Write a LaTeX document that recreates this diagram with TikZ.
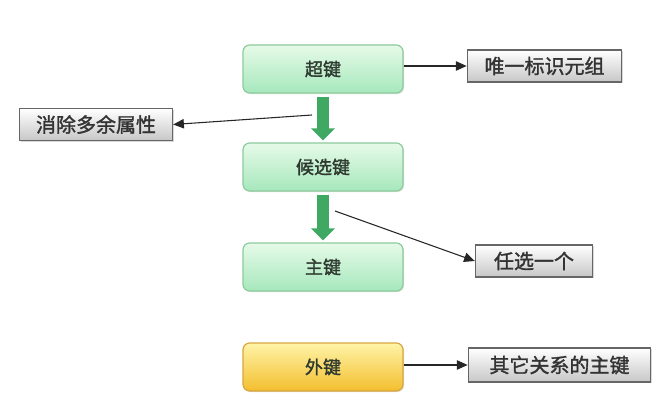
\documentclass[tikz,border=0pt]{standalone}
\usepackage{fontspec}
\setmainfont{Noto Sans CJK SC}[FakeBold=1.6]
\usetikzlibrary{arrows.meta,shadows,calc}
\definecolor{gtop}{HTML}{E6FAE8}
\definecolor{gbot}{HTML}{A6E8BC}
\definecolor{gedge}{HTML}{8CCB9C}
\definecolor{ytop}{HTML}{FFF4A8}
\definecolor{ybot}{HTML}{F3BE2E}
\definecolor{yedge}{HTML}{D9A640}
\definecolor{arrowg}{HTML}{3FA862}
\definecolor{txt}{HTML}{2E3A30}
\tikzset{
  keybox/.style={draw=gedge, line width=0.9pt, rounded corners=5pt, top color=gtop, bottom color=gbot,
    minimum width=120pt, minimum height=36pt, font=\fontsize{13.5}{15}\selectfont, text=txt,
    drop shadow={shadow xshift=0.8pt, shadow yshift=-0.8pt, opacity=0.25}},
  fkbox/.style={keybox, draw=yedge, top color=ytop, bottom color=ybot},
  notebox/.style={draw=black!60, line width=0.8pt, top color=white, bottom color=black!22,
    minimum height=24pt, inner xsep=2pt, font=\fontsize{15}{16}\selectfont, text=black!80,
    drop shadow={shadow xshift=1pt, shadow yshift=-1pt, opacity=0.3}},
  conn/.style={draw=black!85, line width=0.8pt, -{Triangle[length=8pt,width=7pt]}},
  fat/.style={draw=arrowg, line width=9pt, -{Triangle[length=9pt,width=17.5pt]}, shorten >=1.5pt}
}
\begin{document}
\begin{tikzpicture}[x=0.75pt,y=-0.75pt]
\useasboundingbox (0,0) rectangle (671,406);
\node[keybox] (super) at (323,69) {超键};
\node[keybox] (cand) at (323,167) {候选键};
\node[keybox] (pk) at (323,267) {主键};
\node[fkbox] (fk) at (323,367) {外键};
\node[notebox, minimum width=116pt] (uniq) at (544.5,66) {唯一标识元组};
\node[notebox, minimum width=115pt] (redund) at (96,124.5) {消除多余属性};
\node[notebox, minimum width=88pt] (any) at (534,261) {任选一个};
\node[notebox, minimum width=137pt, minimum height=25.5pt] (other) at (559.5,365) {其它关系的主键};
\draw[fat] ($(super.south)+(0,3)$) -- (cand.north);
\draw[fat] ($(cand.south)+(0,3)$) -- (pk.north);
\coordinate (s1) at (312,115);
\coordinate (s2) at (335,211);
\draw[conn] (super.east |- uniq.west) -- (uniq.west);
\draw[conn] (s1) -- (redund.east);
\draw[conn] (s2) -- (any.west);
\draw[conn] (fk.east |- other.west) -- (other.west);
\end{tikzpicture}
\end{document}
